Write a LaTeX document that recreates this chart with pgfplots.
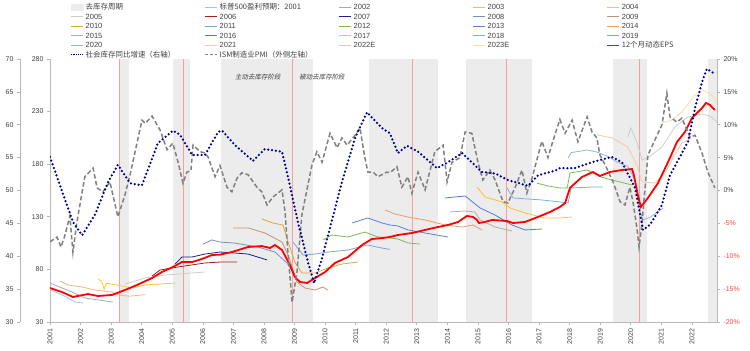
\documentclass[border=0pt]{standalone}
\usepackage{pgfplots}
\pgfplotsset{compat=1.18}
\usepackage{fontspec}
\setmainfont{Liberation Sans}
\newfontfamily\cjk{Noto Sans CJK SC}
\newfontfamily\cjkit{Noto Sans CJK SC}[FakeSlant=0.2]

\definecolor{bandgray}{RGB}{236,236,236}
\definecolor{vred}{RGB}{242,160,160}
\definecolor{axisgray}{RGB}{185,185,185}
\definecolor{labelgray}{RGB}{64,64,64}
\definecolor{negred}{RGB}{255,70,70}
\definecolor{c2001}{RGB}{160,196,232}
\definecolor{c2002}{RGB}{170,170,170}
\definecolor{c2003}{RGB}{245,180,135}
\definecolor{c2004}{RGB}{255,200,40}
\definecolor{c2005}{RGB}{205,205,205}
\definecolor{c2006}{RGB}{160,30,30}
\definecolor{c2007}{RGB}{30,30,140}
\definecolor{c2008}{RGB}{125,140,190}
\definecolor{c2009}{RGB}{200,145,115}
\definecolor{c2010}{RGB}{215,170,60}
\definecolor{c2011}{RGB}{120,165,220}
\definecolor{c2012}{RGB}{125,185,95}
\definecolor{c2013}{RGB}{90,130,210}
\definecolor{c2014}{RGB}{240,155,100}
\definecolor{c2015}{RGB}{175,175,175}
\definecolor{c2016}{RGB}{80,125,210}
\definecolor{c2017}{RGB}{255,195,40}
\definecolor{c2018}{RGB}{120,175,230}
\definecolor{c2019}{RGB}{120,190,80}
\definecolor{c2020}{RGB}{150,175,230}
\definecolor{c2021}{RGB}{248,200,170}
\definecolor{c2022}{RGB}{205,205,205}
\definecolor{c2023}{RGB}{255,218,170}
\definecolor{epsred}{RGB}{255,0,0}
\definecolor{invnavy}{RGB}{0,0,140}
\definecolor{pmigray}{RGB}{128,128,128}

\pgfplotsset{
  base/.style={scale only axis, width=667bp, height=263bp, at={(0bp,0bp)}, anchor=south west,
    xmin=2001, xmax=2022.82,
    tick align=outside, major tick length=3bp,
    tick style={color=axisgray, line width=0.6bp},
    axis line style={color=axisgray, line width=0.6bp},
    ticklabel style={font=\fontsize{7}{8}\selectfont, text=labelgray},
    /pgf/number format/assume math mode=true,
    /pgf/number format/1000 sep={}},
  fc/.style={line width=0.8bp, forget plot},
  invstyle/.style={color=invnavy, line width=2.5bp, line cap=round, dash pattern=on 0bp off 3.9bp},
  pmistyle/.style={color=pmigray, line width=1.5bp, dash pattern=on 4.5bp off 2.5bp},
}
\pgfplotsset{legend image code/.code={\draw[#1] (0bp,0bp) -- (12bp,0bp);}}

\begin{document}
\begin{tikzpicture}
\useasboundingbox (-50bp,-29bp) rectangle (700bp,322bp);

% ---------------- main axis: EPS (inner left axis) ----------------
\begin{axis}[base,
  axis x line*=bottom, axis y line*=left,
  ymin=30, ymax=280, ytick={30,80,130,180,230,280},
  xtick={2001,...,2022},
  x tick label style={rotate=90, anchor=east},
  legend columns=5,
  legend cell align=left,
  legend style={at={(0.030,1.215)}, anchor=north west, draw=none, fill=none, inner sep=0pt,
    font=\fontsize{7.5}{8}\selectfont, text=labelgray,
    nodes={inner xsep=2.5bp, inner ysep=0bp, text height=7bp, text depth=2.5bp, text width=116bp, align=left},
    row sep=0bp, column sep=0bp},
]
% de-stocking bands
\addplot[fill=bandgray, draw=none, forget plot] coordinates {(2003.26,30)(2003.26,280)(2003.58,280)(2003.58,30)};
\addplot[fill=bandgray, draw=none, forget plot] coordinates {(2005.02,30)(2005.02,280)(2005.58,280)(2005.58,30)};
\addplot[fill=bandgray, draw=none, forget plot] coordinates {(2006.59,30)(2006.59,280)(2009.60,280)(2009.60,30)};
\addplot[fill=bandgray, draw=none, forget plot] coordinates {(2011.43,30)(2011.43,280)(2013.69,280)(2013.69,30)};
\addplot[fill=bandgray, draw=none, forget plot] coordinates {(2014.61,30)(2014.61,280)(2016.77,280)(2016.77,30)};
\addplot[fill=bandgray, draw=none, forget plot] coordinates {(2019.42,30)(2019.42,280)(2020.53,280)(2020.53,30)};
\addplot[fill=bandgray, draw=none, forget plot] coordinates {(2022.52,30)(2022.52,280)(2022.82,280)(2022.82,30)};
% red reference lines
\addplot[color=vred, line width=0.6bp, forget plot] coordinates {(2003.26,30)(2003.26,280)};
\addplot[color=vred, line width=0.6bp, forget plot] coordinates {(2005.35,30)(2005.35,280)};
\addplot[color=vred, line width=0.6bp, forget plot] coordinates {(2008.92,30)(2008.92,280)};
\addplot[color=vred, line width=0.6bp, forget plot] coordinates {(2012.84,30)(2012.84,280)};
\addplot[color=vred, line width=0.6bp, forget plot] coordinates {(2015.92,30)(2015.92,280)};
\addplot[color=vred, line width=0.6bp, forget plot] coordinates {(2020.27,30)(2020.27,280)};

% annual EPS forecasts
\addplot[color=c2001, fc] coordinates {(2001.00,61)(2001.39,55.7)(2001.82,49)(2002.08,48)};
\addplot[color=c2002, fc] coordinates {(2001.00,67)(2001.72,58.5)(2002.14,52.8)(2002.57,51)(2003.06,49)};
\addplot[color=c2003, fc] coordinates {(2001.33,69)(2001.59,65.2)(2002.05,63.3)(2002.47,60.4)(2003.03,58.5)(2003.25,55.7)(2003.60,54.5)(2004.11,56)};
\addplot[color=c2004, fc] coordinates {(2002.57,71)(2002.70,68)(2002.77,61)(2002.84,67)(2003.22,65)(2003.68,62.3)(2004.11,65.2)(2005.09,67)};
\addplot[color=c2005, fc] coordinates {(2003.45,66)(2004.11,71.8)(2004.76,74.7)(2006.07,77.5)};
\addplot[color=c2006, fc] coordinates {(2004.34,73.7)(2004.60,79.4)(2005.19,82.3)(2006.07,86.1)(2006.56,87.0)(2007.12,87.0)};
\addplot[color=c2007, fc] coordinates {(2005.09,85)(2005.32,91.8)(2005.65,91.8)(2006.07,94.6)(2006.56,96.5)(2007.05,95.6)(2007.48,94.6)(2008.10,89)};
\addplot[color=c2008, fc] coordinates {(2006.00,104)(2006.30,108)(2006.56,106)(2007.05,105)(2007.80,101.3)(2008.36,96.5)(2008.75,86.1)(2009.01,74.7)};
\addplot[color=c2009, fc] coordinates {(2006.99,119.4)(2007.48,119.4)(2008.03,114.6)(2008.59,106)(2008.79,93.7)(2009.08,68)(2009.34,62.3)(2009.67,60.4)(2009.93,63.3)(2010.09,60.4)};
\addplot[color=c2010, fc] coordinates {(2007.93,128)(2008.29,124.1)(2008.62,122.2)(2008.79,106)(2009.01,87)(2009.24,76.6)(2009.67,76.6)(2010.09,81.3)(2010.55,85.1)(2011.07,87)};
\addplot[color=c2011, fc] coordinates {(2008.95,106)(2009.28,93.7)(2009.67,94.6)(2010.09,96.5)(2010.75,98.4)(2011.37,103.2)(2011.86,100.3)(2012.12,99)};
\addplot[color=c2012, fc] coordinates {(2009.93,108)(2010.22,112.7)(2010.75,110.8)(2011.30,115.5)(2011.73,110.8)(2012.12,109.8)(2012.38,108.9)(2012.71,105.1)(2013.11,104.1)};
\addplot[color=c2013, fc] coordinates {(2010.88,124.1)(2011.40,128.9)(2011.86,124.1)(2012.12,122.2)(2012.38,121.3)(2012.71,117.5)(2013.27,114.6)(2014.02,110.8)};
\addplot[color=c2014, fc] coordinates {(2011.96,136.5)(2012.28,132.7)(2012.71,129.8)(2013.27,127.0)(2013.92,122.2)(2014.48,120.3)(2014.84,122.2)(2015.13,117.5)};
\addplot[color=c2015, fc] coordinates {(2014.08,134.6)(2014.58,135.5)(2014.90,134.6)(2015.07,127.0)(2015.56,120.3)(2016.11,116.5)};
\addplot[color=c2016, fc] coordinates {(2013.92,147.9)(2014.58,149.8)(2015.07,138.4)(2015.56,131.7)(2016.11,122.2)(2016.54,117.5)(2017.09,118.4)};
\addplot[color=c2017, fc] coordinates {(2014.97,158.3)(2015.23,148.8)(2015.79,144.1)(2016.05,138.4)(2016.54,133.6)(2017.19,128.9)(2017.68,128.9)(2018.08,129.8)};
\addplot[color=c2018, fc] coordinates {(2015.95,157.4)(2016.15,147.9)(2016.64,146.9)(2017.09,146.0)(2017.68,144.1)(2017.95,143.1)(2018.05,157.4)(2018.73,158.3)(2019.09,158.3)};
\addplot[color=c2019, fc] coordinates {(2016.93,162)(2017.29,159.3)(2017.68,157.4)(2017.92,157.5)(2018.01,171.6)(2018.57,174.5)(2019.03,167.8)(2019.38,165.0)(2020.04,160.2)};
\addplot[color=c2020, fc] coordinates {(2017.95,186)(2018.05,191)(2018.57,193.5)(2018.89,191.6)(2019.29,186.8)(2019.55,182.1)(2019.90,178)(2020.14,165)(2020.30,135)(2020.40,127.1)(2020.66,130)(2021.06,138.4)};
\addplot[color=c2021, fc] coordinates {(2018.90,207.8)(2019.38,205)(2019.90,196.4)(2020.20,179.2)(2020.37,163.1)(2020.79,162.1)(2021.12,171.6)(2021.44,188.7)(2021.67,200.2)(2022.00,205)};
\addplot[color=c2022, fc] coordinates {(2019.90,206)(2020.00,214.4)(2020.20,201)(2020.37,184)(2020.56,186)(2021.02,196.4)(2021.44,215.4)(2021.87,224.9)(2022.33,227.7)(2022.59,225.8)(2022.82,220.1)};
\addplot[color=c2023, fc] coordinates {(2021.02,219.2)(2021.35,222)(2021.67,229.6)(2022.10,245.8)(2022.36,250.5)(2022.65,245.8)(2022.82,239)};

% trailing 12-month EPS
\addplot[color=epsred, line width=1.8bp, forget plot] coordinates {
(2001.00,62.3)(2001.39,58.5)(2001.75,53.8)(2002.24,56.6)(2002.57,54.7)(2003.03,55.7)(2003.45,60.4)(2003.85,65.2)
(2004.34,71.8)(2004.66,77.5)(2005.02,82.3)(2005.32,87.0)(2005.65,87.0)(2005.97,89.9)(2006.30,93.7)(2006.56,94.0)
(2006.95,96.5)(2007.48,101.3)(2007.93,102.2)(2008.20,100.3)(2008.36,103.2)(2008.59,98.4)(2008.85,84.2)(2009.01,72.8)
(2009.18,68.0)(2009.41,67.1)(2009.67,71.8)(2010.00,77.5)(2010.32,86.1)(2010.75,91.8)(2011.21,103.2)(2011.53,108.9)
(2011.86,109.8)(2012.12,110.8)(2012.38,112.7)(2012.84,114.6)(2013.27,117.5)(2013.69,120.3)(2014.02,122.2)(2014.35,125.1)
(2014.64,130.8)(2014.84,129.8)(2014.97,127.0)(2015.03,124.1)(2015.23,125.1)(2015.46,127.0)(2015.95,126.0)(2016.15,124.1)
(2016.54,125.1)(2016.96,129.8)(2017.36,134.6)(2017.68,139.3)(2017.85,143.1)(2018.01,157.4)(2018.40,167.8)(2018.76,172.6)
(2018.99,168.8)(2019.32,172.6)(2019.71,174.5)(2020.04,175.4)(2020.10,169.7)(2020.23,150.7)(2020.33,139.3)(2020.56,147.9)
(2020.89,162.1)(2021.22,182.1)(2021.51,201.1)(2021.77,210.6)(2022.00,223.9)(2022.33,233.4)(2022.46,238.2)(2022.59,236.3)(2022.75,231.5)};

\node[font=\cjkit\fontsize{6.5}{7}\selectfont, text=labelgray] at (axis cs:2007.80,263) {主动去库存阶段};
\node[font=\cjkit\fontsize{6.5}{7}\selectfont, text=labelgray] at (axis cs:2009.90,263) {被动去库存阶段};

% legend
\addlegendimage{legend image code/.code={\fill[bandgray] (0bp,-3bp) rectangle (12bp,3bp);}}
\addlegendentry{\cjk 去库存周期}
\addlegendimage{color=c2001, line width=1bp}\addlegendentry{\cjk 标普500盈利预期：2001}
\addlegendimage{color=c2002, line width=1bp}\addlegendentry{2002}
\addlegendimage{color=c2003, line width=1bp}\addlegendentry{2003}
\addlegendimage{color=c2004, line width=1bp}\addlegendentry{2004}
\addlegendimage{color=c2005, line width=1bp}\addlegendentry{2005}
\addlegendimage{color=c2006, line width=1bp}\addlegendentry{2006}
\addlegendimage{color=c2007, line width=1bp}\addlegendentry{2007}
\addlegendimage{color=c2008, line width=1bp}\addlegendentry{2008}
\addlegendimage{color=c2009, line width=1bp}\addlegendentry{2009}
\addlegendimage{color=c2010, line width=1bp}\addlegendentry{2010}
\addlegendimage{color=c2011, line width=1bp}\addlegendentry{2011}
\addlegendimage{color=c2012, line width=1bp}\addlegendentry{2012}
\addlegendimage{color=c2013, line width=1bp}\addlegendentry{2013}
\addlegendimage{color=c2014, line width=1bp}\addlegendentry{2014}
\addlegendimage{color=c2015, line width=1bp}\addlegendentry{2015}
\addlegendimage{color=c2016, line width=1bp}\addlegendentry{2016}
\addlegendimage{color=c2017, line width=1bp}\addlegendentry{2017}
\addlegendimage{color=c2018, line width=1bp}\addlegendentry{2018}
\addlegendimage{color=c2019, line width=1bp}\addlegendentry{2019}
\addlegendimage{color=c2020, line width=1bp}\addlegendentry{2020}
\addlegendimage{color=c2021, line width=1bp}\addlegendentry{2021}
\addlegendimage{color=c2022, line width=1bp}\addlegendentry{2022E}
\addlegendimage{color=c2023, line width=1bp}\addlegendentry{2023E}
\addlegendimage{color=epsred, line width=1.2bp}\addlegendentry{\cjk 12个月动态EPS}
\addlegendimage{color=invnavy, line width=1bp, dash pattern=on 0.6bp off 1.2bp}\addlegendentry{\cjk 社会库存同比增速（右轴）}
\addlegendimage{color=pmigray, line width=1bp, dash pattern=on 3bp off 2bp}\addlegendentry{\cjk ISM制造业PMI（外侧左轴）}
\end{axis}

% ---------------- outer left axis scale for PMI ----------------
\begin{axis}[scale only axis, width=1bp, height=263bp, at={(-30bp,0bp)}, anchor=south west,
  xmin=0, xmax=1, ymin=30, ymax=70, ytick={30,35,...,70},
  axis y line*=left, hide x axis,
  tick align=outside, major tick length=3bp,
  tick style={color=axisgray, line width=0.6bp},
  axis line style={color=axisgray, line width=0.6bp},
  ticklabel style={font=\fontsize{7}{8}\selectfont, text=labelgray},
  /pgf/number format/assume math mode=true]
\end{axis}

% ---------------- PMI data axis ----------------
\begin{axis}[base, ymin=30, ymax=70, axis lines=none, xtick=\empty, ytick=\empty]
\addplot[pmistyle] coordinates {
(2001.00,42.2)(2001.23,42.9)(2001.36,41.4)(2001.49,43.2)(2001.65,46.1)(2001.75,40.6)(2001.88,45.2)(2002.14,52.1)
(2002.41,53.4)(2002.54,50.4)(2002.73,49.8)(2002.96,51.3)(2003.22,46.0)(2003.45,49.3)(2003.62,52.4)(2004.01,60.7)
(2004.11,60.2)(2004.34,61.3)(2004.60,59.2)(2004.83,56.2)(2005.02,57.2)(2005.19,54.3)(2005.35,51.1)(2005.48,52.8)
(2005.61,53.0)(2005.68,56.9)(2005.91,55.9)(2006.07,55.7)(2006.17,55.1)(2006.40,52.1)(2006.56,53.8)(2006.79,50.5)
(2006.95,49.8)(2007.12,51.9)(2007.28,52.7)(2007.48,52.4)(2007.77,50.5)(2007.93,49.8)(2008.10,47.8)(2008.29,49.0)
(2008.59,50.1)(2008.69,46.7)(2008.79,40.2)(2008.92,33.0)(2009.08,37.6)(2009.24,46.3)(2009.57,53.9)(2009.73,55.9)
(2009.90,54.3)(2010.16,58.7)(2010.39,56.5)(2010.55,58.0)(2010.72,56.9)(2010.98,58.4)(2011.14,59.5)(2011.30,55.0)
(2011.40,52.8)(2011.57,52.8)(2011.73,52.1)(2012.02,52.8)(2012.12,52.7)(2012.35,53.6)(2012.51,50.5)(2012.71,52.1)
(2012.84,49.6)(2013.04,52.8)(2013.27,50.1)(2013.59,55.9)(2013.86,56.9)(2013.99,51.3)(2014.15,54.3)(2014.41,55.0)
(2014.58,58.9)(2014.80,58.7)(2015.00,54.3)(2015.16,51.6)(2015.39,53.1)(2015.56,51.6)(2015.82,48.3)(2015.98,48.1)
(2016.21,50.4)(2016.44,53.1)(2016.60,49.6)(2016.77,51.9)(2017.09,57.5)(2017.29,55.0)(2017.45,57.5)(2017.68,60.8)
(2017.85,58.7)(2018.08,60.7)(2018.27,57.4)(2018.57,61.2)(2018.73,58.9)(2018.89,58.0)(2018.99,55.4)(2019.16,53.9)
(2019.42,51.3)(2019.65,48.3)(2019.81,47.8)(2019.97,50.5)(2020.07,48.3)(2020.20,44.3)(2020.27,41.4)(2020.37,45.2)
(2020.56,55.4)(2020.79,57.7)(2021.02,60.0)(2021.18,64.8)(2021.28,61.2)(2021.51,60.4)(2021.67,61.0)(2021.94,58.1)
(2022.10,58.4)(2022.33,55.7)(2022.52,52.8)(2022.75,50.4)};
\end{axis}

% ---------------- right axis: social inventory growth ----------------
\begin{axis}[base, ymin=-20, ymax=20,
  axis y line*=right, axis x line=none,
  ytick={-20,-15,...,20},
  yticklabels={\textcolor{negred}{-20\%},\textcolor{negred}{-15\%},\textcolor{negred}{-10\%},\textcolor{negred}{-5\%},0\%,5\%,10\%,15\%,20\%},
  yticklabel style={font=\fontsize{7}{8}\selectfont, text=labelgray}]
\addplot[invstyle] coordinates {
(2001.00,5.1)(2001.75,-4.8)(2002.05,-6.8)(2002.47,-3.7)(2002.90,1.3)(2003.22,3.9)(2003.62,1.1)(2004.01,0.8)
(2004.53,7.2)(2005.02,9.1)(2005.25,8.5)(2005.65,5.4)(2006.07,5.4)(2006.50,8.9)(2006.63,9.1)(2007.05,6.9)
(2007.64,4.5)(2008.03,6.3)(2008.59,5.9)(2008.75,2.8)(2009.11,-4.8)(2009.44,-10.9)(2009.64,-14.1)(2009.90,-10.3)
(2010.55,1.3)(2010.98,8.0)(2011.37,11.9)(2011.86,9.5)(2012.12,8.7)(2012.38,5.7)(2012.68,6.8)(2013.04,5.9)
(2013.66,3.4)(2014.02,4.3)(2014.48,5.7)(2015.13,2.8)(2015.56,2.6)(2015.98,1.6)(2016.64,0.7)(2016.96,2.3)
(2017.52,3.0)(2017.68,3.4)(2018.17,3.4)(2018.73,4.3)(2019.38,5.1)(2019.71,4.3)(2020.14,0.4)(2020.40,-6.0)
(2020.63,-5.2)(2021.02,-2.2)(2021.28,2.3)(2021.87,7.4)(2022.10,12.5)(2022.33,16.5)(2022.49,18.5)(2022.69,17.9)};
\end{axis}
\end{tikzpicture}
\end{document}
